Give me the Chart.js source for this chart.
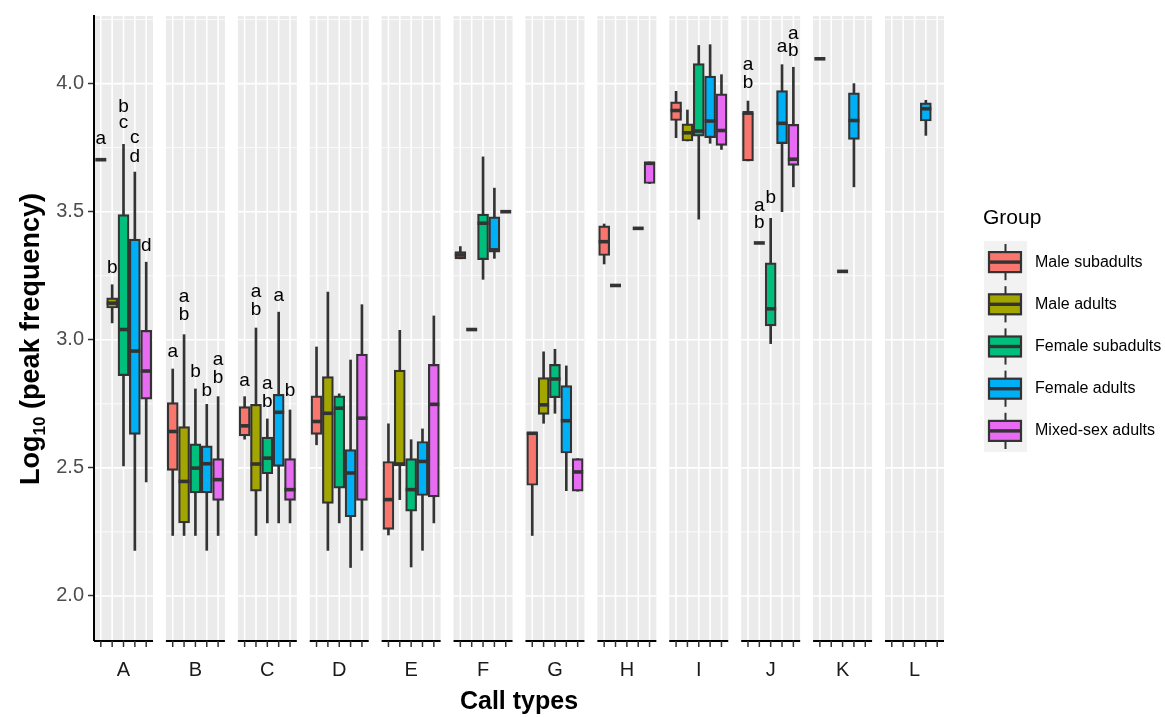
<!DOCTYPE html>
<html>
<head>
<meta charset="utf-8">
<script src="https://cdn.jsdelivr.net/npm/chart.js@4.4.1/dist/chart.umd.min.js"></script>
<style>
  html, body { margin: 0; padding: 0; background: #ffffff; }
</style>
</head>
<body>
<canvas id="boxChart" width="1165" height="717"></canvas>
<script>
var callTypes = ['A', 'B', 'C', 'D', 'E', 'F', 'G', 'H', 'I', 'J', 'K', 'L'];
var groupNames = ['Male subadults', 'Male adults', 'Female subadults', 'Female adults', 'Mixed-sex adults'];
var groupColors = ['#F8766D', '#A3A500', '#00BF7D', '#00B0F6', '#E76BF3'];

// [lower whisker, lower hinge, median, upper hinge, upper whisker] per call type
var maleSubadults = [
  [3.703, 3.703, 3.703, 3.703, 3.703],
  [2.236, 2.490, 2.642, 2.755, 2.886],
  [2.612, 2.625, 2.664, 2.739, 2.778],
  [2.590, 2.631, 2.681, 2.781, 2.972],
  [2.238, 2.260, 2.376, 2.525, 2.672],
  [3.316, 3.316, 3.331, 3.344, 3.364],
  [2.236, 2.432, 2.635, 2.638, 2.638],
  [3.296, 3.329, 3.383, 3.445, 3.452],
  [3.789, 3.856, 3.895, 3.929, 3.970],
  [3.698, 3.698, 3.886, 3.886, 3.932],
  [4.097, 4.097, 4.097, 4.097, 4.097],
  null
];
var maleAdults = [
  [3.066, 3.124, 3.143, 3.164, 3.215],
  [2.236, 2.285, 2.447, 2.661, 3.020],
  [2.236, 2.409, 2.515, 2.748, 3.046],
  [2.178, 2.361, 2.713, 2.856, 3.186],
  [2.376, 2.509, 2.515, 2.882, 3.037],
  [3.040, 3.040, 3.040, 3.040, 3.040],
  [2.674, 2.709, 2.746, 2.852, 2.953],
  [3.212, 3.212, 3.212, 3.212, 3.212],
  [3.776, 3.776, 3.808, 3.843, 3.897],
  [3.378, 3.378, 3.378, 3.378, 3.378],
  null,
  null
];
var femaleSubadults = [
  [2.508, 2.860, 3.040, 3.489, 3.763],
  [2.236, 2.402, 2.499, 2.594, 2.808],
  [2.285, 2.477, 2.538, 2.620, 2.691],
  [2.285, 2.421, 2.733, 2.781, 2.789],
  [2.113, 2.331, 2.415, 2.536, 2.610],
  [3.236, 3.313, 3.455, 3.491, 3.714],
  [2.713, 2.774, 2.847, 2.904, 2.963],
  null,
  [3.471, 3.795, 3.815, 4.078, 4.149],
  [2.985, 3.054, 3.121, 3.300, 3.474],
  [3.267, 3.267, 3.267, 3.267, 3.267],
  null
];
var femaleAdults = [
  [2.178, 2.631, 2.956, 3.393, 3.655],
  [2.178, 2.402, 2.516, 2.586, 2.748],
  [2.285, 2.506, 2.717, 2.787, 3.108],
  [2.111, 2.309, 2.480, 2.571, 2.921],
  [2.178, 2.392, 2.525, 2.603, 2.652],
  [3.318, 3.342, 3.351, 3.480, 3.592],
  [2.411, 2.558, 2.684, 2.821, 2.898],
  [3.435, 3.435, 3.435, 3.435, 3.435],
  [3.767, 3.789, 3.854, 4.029, 4.152],
  [3.500, 3.766, 3.845, 3.973, 4.074],
  [3.597, 3.782, 3.856, 3.964, 4.000],
  [3.798, 3.854, 3.902, 3.925, 3.935]
];
var mixedSexAdults = [
  [2.445, 2.768, 2.878, 3.037, 3.303],
  [2.236, 2.373, 2.454, 2.536, 2.778],
  [2.285, 2.373, 2.415, 2.536, 2.726],
  [2.178, 2.373, 2.694, 2.944, 3.137],
  [2.285, 2.387, 2.748, 2.904, 3.093],
  [3.500, 3.500, 3.500, 3.500, 3.500],
  [2.409, 2.409, 2.484, 2.536, 2.536],
  [3.610, 3.610, 3.689, 3.694, 3.694],
  [3.743, 3.759, 3.817, 3.960, 4.035],
  [3.597, 3.681, 3.705, 3.841, 4.064],
  null,
  null
];
var groupStats = [maleSubadults, maleAdults, femaleSubadults, femaleAdults, mixedSexAdults];

var yTicks = [2.0, 2.5, 3.0, 3.5, 4.0];
var yMinorTicks = [2.25, 2.75, 3.25, 3.75, 4.25];

// significance letters: [call type, group, letter, y position]
var sigLetters = [
  [0, 0, 'a', 3.783], [0, 1, 'b', 3.283], [0, 2, 'b', 3.908], [0, 2, 'c', 3.847],
  [0, 3, 'c', 3.789], [0, 3, 'd', 3.715], [0, 4, 'd', 3.368],
  [1, 0, 'a', 2.953], [1, 1, 'a', 3.167], [1, 1, 'b', 3.096], [1, 2, 'b', 2.875],
  [1, 3, 'b', 2.800], [1, 4, 'a', 2.921], [1, 4, 'b', 2.852],
  [2, 0, 'a', 2.839], [2, 1, 'a', 3.186], [2, 1, 'b', 3.119], [2, 2, 'a', 2.830],
  [2, 2, 'b', 2.759], [2, 3, 'a', 3.173], [2, 4, 'b', 2.800],
  [9, 0, 'a', 4.074], [9, 0, 'b', 4.003], [9, 1, 'a', 3.523], [9, 1, 'b', 3.456],
  [9, 2, 'b', 3.556], [9, 3, 'a', 4.145], [9, 4, 'a', 4.194], [9, 4, 'b', 4.130]
];

var PANEL_STEP = 6.336;   // one facet = 5.2 units + gap
var FONT = '"Liberation Sans", Arial, sans-serif';

function slot(k, g) {
  return k * PANEL_STEP + 1 + g;
}

var datasets = [];
groupStats.forEach(function(stats, g) {
  var boxes = [];
  var whiskers = [];
  stats.forEach(function(s, k) {
    if (!s) return;
    boxes.push({x: slot(k, g), y: [s[1], s[3]]});
    whiskers.push({x: slot(k, g), y: [s[0], s[4]]});
  });
  datasets.push({
    label: groupNames[g],
    data: boxes,
    backgroundColor: groupColors[g],
    borderColor: '#333333',
    borderWidth: 2.2,
    borderSkipped: false,
    barThickness: 11,
    grouped: false,
    order: 0
  });
  datasets.push({
    label: groupNames[g] + ' whiskers',
    data: whiskers,
    backgroundColor: '#333333',
    borderWidth: 0,
    barThickness: 2,
    grouped: false,
    order: 1
  });
});

// grey facet panels with white grid
var facetPanels = {
  id: 'facetPanels',
  beforeDraw: function(chart) {
    var ctx = chart.ctx, xs = chart.scales.x, ys = chart.scales.y;
    var top = chart.chartArea.top, bottom = chart.chartArea.bottom;
    ctx.save();
    callTypes.forEach(function(c, k) {
      var x0 = xs.getPixelForValue(k * PANEL_STEP + 0.4);
      var x1 = xs.getPixelForValue(k * PANEL_STEP + 5.6);
      ctx.fillStyle = '#EBEBEB';
      ctx.fillRect(x0, top, x1 - x0, bottom - top);
      ctx.strokeStyle = '#FFFFFF';
      ctx.lineWidth = 0.8;
      yMinorTicks.forEach(function(v) {
        var y = ys.getPixelForValue(v);
        if (y < top) return;
        ctx.beginPath(); ctx.moveTo(x0, y); ctx.lineTo(x1, y); ctx.stroke();
      });
      ctx.lineWidth = 1.6;
      yTicks.forEach(function(v) {
        var y = ys.getPixelForValue(v);
        ctx.beginPath(); ctx.moveTo(x0, y); ctx.lineTo(x1, y); ctx.stroke();
      });
      for (var g = 0; g < 5; g++) {
        var x = xs.getPixelForValue(slot(k, g));
        ctx.beginPath(); ctx.moveTo(x, top); ctx.lineTo(x, bottom); ctx.stroke();
      }
      // x axis line and tick marks per facet
      ctx.strokeStyle = '#000000';
      ctx.lineWidth = 2;
      ctx.beginPath(); ctx.moveTo(x0, bottom + 1); ctx.lineTo(x1, bottom + 1); ctx.stroke();
      ctx.strokeStyle = '#333333';
      ctx.lineWidth = 1.5;
      for (var t = 0; t < 5; t++) {
        var tx = xs.getPixelForValue(slot(k, t));
        ctx.beginPath(); ctx.moveTo(tx, bottom + 1); ctx.lineTo(tx, bottom + 7); ctx.stroke();
      }
    });
    ctx.restore();
  }
};

// medians and letters on top of the boxes
var boxExtras = {
  id: 'boxExtras',
  afterDatasetsDraw: function(chart) {
    var ctx = chart.ctx, xs = chart.scales.x, ys = chart.scales.y;
    ctx.save();
    ctx.strokeStyle = '#333333';
    ctx.lineWidth = 3.6;
    groupStats.forEach(function(stats, g) {
      stats.forEach(function(s, k) {
        if (!s) return;
        var x = xs.getPixelForValue(slot(k, g));
        var y = ys.getPixelForValue(s[2]);
        ctx.beginPath(); ctx.moveTo(x - 5.5, y); ctx.lineTo(x + 5.5, y); ctx.stroke();
      });
    });
    ctx.fillStyle = '#000000';
    ctx.font = '19px ' + FONT;
    ctx.textAlign = 'center';
    ctx.textBaseline = 'middle';
    sigLetters.forEach(function(l) {
      ctx.fillText(l[2], xs.getPixelForValue(slot(l[0], l[1])), ys.getPixelForValue(l[3]));
    });
    ctx.restore();
  },
  afterDraw: function(chart) {
    var ctx = chart.ctx, area = chart.chartArea;
    ctx.save();
    // y axis title with subscript
    ctx.translate(30, (area.top + area.bottom) / 2 + 11);
    ctx.rotate(-Math.PI / 2);
    var mainFont = 'bold 27px ' + FONT, subFont = 'bold 17px ' + FONT;
    ctx.font = mainFont;
    var w1 = ctx.measureText('Log').width;
    var w3 = ctx.measureText(' (peak frequency)').width;
    ctx.font = subFont;
    var w2 = ctx.measureText('10').width;
    var sx = -(w1 + w2 + w3) / 2;
    ctx.fillStyle = '#000000';
    ctx.textBaseline = 'alphabetic';
    ctx.font = mainFont;
    ctx.fillText('Log', sx, 9);
    ctx.font = subFont;
    ctx.fillText('10', sx + w1, 15);
    ctx.font = mainFont;
    ctx.fillText(' (peak frequency)', sx + w1 + w2, 9);
    ctx.restore();

    // legend
    ctx.save();
    ctx.fillStyle = '#000000';
    ctx.font = '21px ' + FONT;
    ctx.textBaseline = 'middle';
    ctx.fillText('Group', 983, 218);
    var rowH = 42.2, keyTop = 241;
    ctx.fillStyle = '#F2F2F2';
    ctx.fillRect(984, keyTop, 43, rowH * groupNames.length);
    groupNames.forEach(function(name, i) {
      var top = keyTop + i * rowH, mid = top + rowH / 2;
      ctx.strokeStyle = '#333333';
      ctx.lineWidth = 2;
      ctx.beginPath(); ctx.moveTo(1005.5, top + 3); ctx.lineTo(1005.5, top + rowH - 3); ctx.stroke();
      ctx.fillStyle = groupColors[i];
      ctx.fillRect(989, mid - 10, 32, 20);
      ctx.lineWidth = 2.2;
      ctx.strokeRect(989, mid - 10, 32, 20);
      ctx.lineWidth = 3.4;
      ctx.beginPath(); ctx.moveTo(989, mid); ctx.lineTo(1021, mid); ctx.stroke();
      ctx.fillStyle = '#000000';
      ctx.font = '16px ' + FONT;
      ctx.fillText(name, 1035, mid);
    });
    ctx.restore();
  }
};

new Chart(document.getElementById('boxChart'), {
  type: 'bar',
  data: {datasets: datasets},
  options: {
    responsive: false,
    animation: false,
    layout: {padding: {top: 13, right: 221, bottom: 0, left: 0}},
    plugins: {
      legend: {display: false},
      tooltip: {enabled: false}
    },
    scales: {
      x: {
        type: 'linear',
        min: 0.4,
        max: 11 * PANEL_STEP + 5.6,
        offset: false,
        grid: {display: false},
        border: {display: false},
        afterBuildTicks: function(scale) {
          scale.ticks = callTypes.map(function(c, k) { return {value: k * PANEL_STEP + 3}; });
        },
        afterFit: function(scale) { scale.height = 77; },
        ticks: {
          autoSkip: false,
          maxRotation: 0,
          padding: 10,
          color: '#1A1A1A',
          font: {family: FONT, size: 20},
          callback: function(v, i) { return callTypes[i]; }
        },
        title: {
          display: true,
          text: 'Call types',
          color: '#000000',
          padding: {top: 0, bottom: 0},
          font: {family: FONT, size: 25, weight: 'bold'}
        }
      },
      y: {
        min: 1.828,
        max: 4.264,
        grid: {drawOnChartArea: false, drawTicks: true, tickLength: 6, tickColor: '#333333', tickWidth: 1.5},
        border: {display: true, color: '#000000', width: 2},
        afterBuildTicks: function(scale) {
          scale.ticks = yTicks.map(function(v) { return {value: v}; });
        },
        afterFit: function(scale) { scale.width = 94; },
        ticks: {
          padding: 4,
          color: '#4D4D4D',
          font: {family: FONT, size: 20},
          callback: function(v) { return v.toFixed(1); }
        }
      }
    }
  },
  plugins: [facetPanels, boxExtras]
});
</script>
</body>
</html>
